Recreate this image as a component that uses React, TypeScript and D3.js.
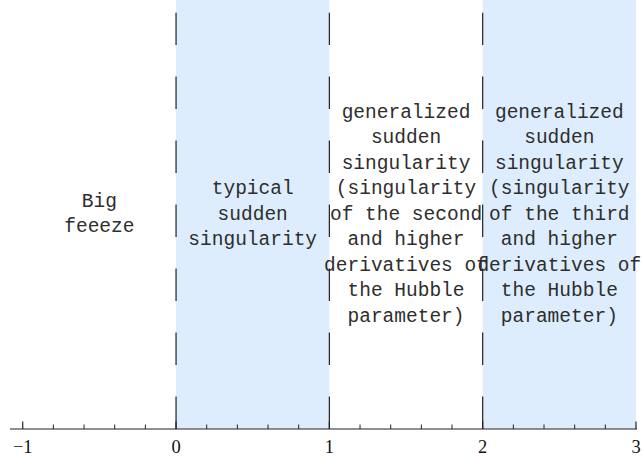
import React, {FC, useEffect, useRef} from 'react';
import * as d3 from 'd3';

// regions along the x axis
const regionStarts = [-1, 0, 1, 2];
const regionEnds = [0, 1, 2, 3];
const regionShaded = [false, true, false, true];
const regionLabels = [
  ['Big', 'feeeze'],
  ['typical', 'sudden', 'singularity'],
  [
    'generalized',
    'sudden',
    'singularity',
    '(singularity',
    'of the second',
    'and higher',
    'derivatives of',
    'the Hubble',
    'parameter)',
  ],
  [
    'generalized',
    'sudden',
    'singularity',
    '(singularity',
    'of the third',
    'and higher',
    'derivatives of',
    'the Hubble',
    'parameter)',
  ],
];
const boundaries = [0, 1, 2];
const majorTicks = [-1, 0, 1, 2, 3];
const minorTicks = [
  -0.8, -0.6, -0.4, -0.2, 0.2, 0.4, 0.6, 0.8, 1.2, 1.4, 1.6, 1.8, 2.2, 2.4,
  2.6, 2.8,
];

const W = 642;
const H = 461;

const App: FC = () => {
  const ref = useRef<SVGSVGElement>(null);

  useEffect(() => {
    const svg = d3.select(ref.current);
    svg.selectAll('*').remove();

    const x = d3.scaleLinear().domain([-1.083, 3]).range([10, 636]);
    const y = d3.scaleLinear().domain([0, 1]).range([429, 0]);

    // shaded bands
    svg
      .append('g')
      .selectAll('rect')
      .data(
        regionStarts
          .map((s, i) => ({s, e: regionEnds[i], on: regionShaded[i]}))
          .filter(d => d.on)
      )
      .enter()
      .append('rect')
      .attr('x', d => x(d.s))
      .attr('width', d => x(d.e) - x(d.s))
      .attr('y', y(1))
      .attr('height', y(0) - y(1))
      .attr('fill', '#ddedfd');

    // dashed boundaries
    svg
      .append('g')
      .selectAll('line')
      .data(boundaries)
      .enter()
      .append('line')
      .attr('x1', d => x(d))
      .attr('x2', d => x(d))
      .attr('y1', y(0))
      .attr('y2', y(0.97))
      .attr('stroke', '#222')
      .attr('stroke-width', 1.2)
      .attr('stroke-dasharray', '32.5 31.5');

    // axis
    const axis = svg.append('g').attr('transform', `translate(0, ${y(0)})`);
    axis
      .append('line')
      .attr('x1', 10)
      .attr('x2', 637)
      .attr('stroke', '#222')
      .attr('stroke-width', 1.2);
    axis
      .selectAll('.minor')
      .data(minorTicks)
      .enter()
      .append('line')
      .attr('x1', d => x(d))
      .attr('x2', d => x(d))
      .attr('y1', 0)
      .attr('y2', -4.5)
      .attr('stroke', '#222')
      .attr('stroke-width', 1);
    axis
      .selectAll('.major')
      .data(majorTicks)
      .enter()
      .append('line')
      .attr('x1', d => x(d))
      .attr('x2', d => x(d))
      .attr('y1', 0)
      .attr('y2', -7.5)
      .attr('stroke', '#222')
      .attr('stroke-width', 1.2);
    axis
      .selectAll('text')
      .data(majorTicks)
      .enter()
      .append('text')
      .attr('x', d => x(d))
      .attr('y', 24)
      .attr('text-anchor', 'middle')
      .attr('font-family', '"Liberation Serif", "Times New Roman", serif')
      .attr('font-size', 18.5)
      .attr('fill', '#111')
      .text(d => d3.format('d')(d));

    // region labels
    const lineGap = 25.5;
    const cy = 213.5;
    const labels = svg.append('g');
    regionLabels.forEach((lines, i) => {
      const cx = x((regionStarts[i] + regionEnds[i]) / 2);
      const t = labels
        .append('text')
        .attr('text-anchor', 'middle')
        .attr('font-family', '"Liberation Mono", "Courier New", monospace')
        .attr('font-size', 19.5)
        .attr('fill', '#2e2e2e');
      lines.forEach((l, j) => {
        t.append('tspan')
          .attr('x', cx)
          .attr('y', cy + (j - (lines.length - 1) / 2) * lineGap)
          .attr('dy', '0.32em')
          .text(l);
      });
    });
  }, []);

  return (
    <svg
      ref={ref}
      width={W}
      height={H}
      style={{position: 'absolute', left: 0, top: 0, background: '#fff'}}
    />
  );
};

export default App;
